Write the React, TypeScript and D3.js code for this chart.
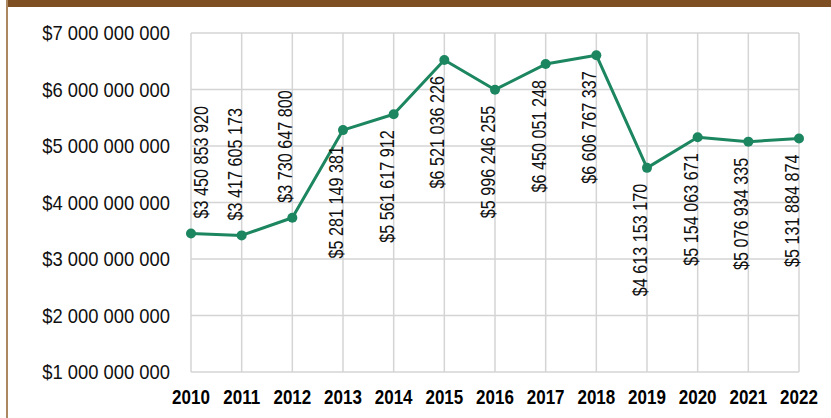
import React, {useEffect, useRef} from 'react';
import * as d3 from 'd3';

const years = ['2010', '2011', '2012', '2013', '2014', '2015', '2016', '2017', '2018', '2019', '2020', '2021', '2022'];
const amounts = [3450853920, 3417605173, 3730647800, 5281149381, 5561617912, 6521036226, 5996246255,
  6450051248, 6606767337, 4613153170, 5154063671, 5076934335, 5131884874];
const yTicks = [1000000000, 2000000000, 3000000000, 4000000000, 5000000000, 6000000000, 7000000000];

const font = '"Liberation Sans", Arial, sans-serif';

const money = (v: number) => '$' + d3.format(',')(v).replace(/,/g, ' ');

export default function App() {
  const ref = useRef<SVGSVGElement>(null);

  useEffect(() => {
    const svg = d3.select(ref.current);
    svg.selectAll('*').remove();

    let margin = {top: 33, right: 32, bottom: 46, left: 191},
      width = 831,
      height = 418;

    let x = d3.scalePoint().domain(years).range([margin.left, width - margin.right]),
      y = d3.scaleLinear().domain([1000000000, 7000000000]).range([height - margin.bottom, margin.top]);

    // frame
    svg.append('rect').attr('x', 7).attr('y', 0).attr('width', width - 7).attr('height', 7).attr('fill', '#7f4f24');
    svg.append('rect').attr('x', 6).attr('y', 0).attr('width', 2).attr('height', height).attr('fill', '#ad8760');

    // grid
    svg.append('g')
      .selectAll('line')
      .data(yTicks)
      .enter().append('line')
      .attr('x1', margin.left).attr('x2', width - margin.right)
      .attr('y1', (d) => y(d)).attr('y2', (d) => y(d))
      .attr('stroke', '#d4d4d4').attr('stroke-width', 1.5);

    svg.append('g')
      .selectAll('line')
      .data(years)
      .enter().append('line')
      .attr('x1', (d) => x(d)!).attr('x2', (d) => x(d)!)
      .attr('y1', margin.top).attr('y2', height - margin.bottom)
      .attr('stroke', '#d4d4d4').attr('stroke-width', 1.5);

    // y labels
    svg.append('g')
      .selectAll('text')
      .data(yTicks)
      .enter().append('text')
      .attr('transform', (d) => 'translate(170,' + y(d) + ') scale(0.92,1)')
      .attr('dy', '0.35em')
      .attr('text-anchor', 'end')
      .attr('font-family', font).attr('font-size', 20).attr('fill', '#111')
      .text((d) => money(d));

    // x labels
    svg.append('g')
      .selectAll('text')
      .data(years)
      .enter().append('text')
      .attr('transform', (d) => 'translate(' + x(d) + ',404) scale(0.85,1)')
      .attr('text-anchor', 'middle')
      .attr('font-family', font).attr('font-weight', 'bold').attr('font-size', 20).attr('fill', '#000')
      .text((d) => d);

    const pts = years.map((yr, i) => ({yr, v: amounts[i]}));

    const line = d3.line<{yr: string, v: number}>().x((d) => x(d.yr)!).y((d) => y(d.v));

    svg.append('path')
      .datum(pts)
      .attr('d', line)
      .attr('fill', 'none')
      .attr('stroke', '#1c8660').attr('stroke-width', 3)
      .attr('stroke-linejoin', 'round');

    svg.append('g')
      .selectAll('circle')
      .data(pts)
      .enter().append('circle')
      .attr('cx', (d) => x(d.yr)!).attr('cy', (d) => y(d.v)).attr('r', 5)
      .attr('fill', '#1c8660');

    // value labels, rotated
    svg.append('g')
      .selectAll('text')
      .data(pts)
      .enter().append('text')
      .attr('transform', (d) => {
        let px = Math.max(x(d.yr)!, margin.left + 17);
        let above = d.v < 4000000000;
        let py = above ? y(d.v) - 15 : y(d.v) + 16;
        return 'translate(' + px + ',' + py + ') rotate(-90) scale(0.83,1)';
      })
      .attr('text-anchor', (d) => d.v < 4000000000 ? 'start' : 'end')
      .attr('font-family', font).attr('font-size', 19.5).attr('fill', '#111')
      .text((d) => money(d.v));
  }, []);

  return (
    <svg ref={ref} width="831" height="418" style={{position: 'absolute', left: 0, top: 0, background: '#fff'}}/>
  );
}
